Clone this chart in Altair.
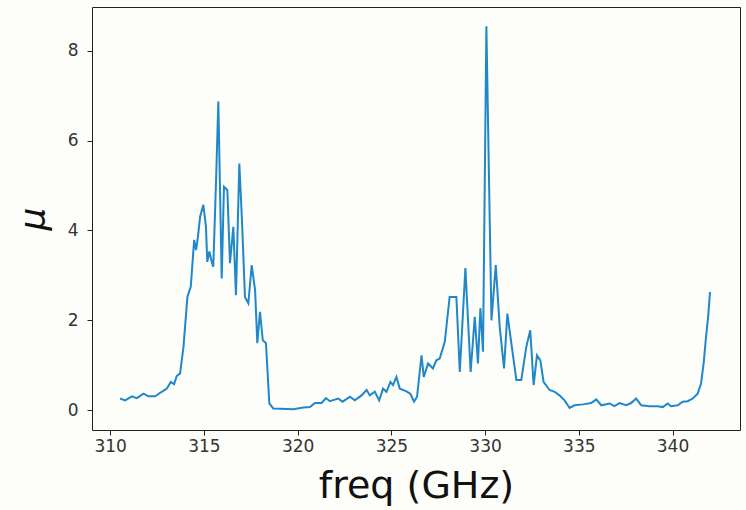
import altair as alt
import pandas as pd

freq = [310.53, 310.8, 311.16, 311.42, 311.78, 312.04, 312.4, 312.75, 313.02, 313.23,
        313.41, 313.55, 313.73, 313.91, 314.12, 314.3, 314.48, 314.58, 314.67, 314.8,
        314.97, 315.11, 315.18, 315.29, 315.42, 315.5, 315.65, 315.77, 315.95, 316.07,
        316.25, 316.39, 316.57, 316.71, 316.89, 317.03, 317.19, 317.37, 317.55, 317.73,
        317.85, 317.99, 318.14, 318.31, 318.49, 318.7, 319.77, 320.3, 320.66, 320.92,
        321.28, 321.51, 321.72, 322.16, 322.4, 322.79, 323.05, 323.41, 323.68, 323.85,
        324.12, 324.35, 324.56, 324.74, 324.95, 325.09, 325.27, 325.45, 325.81, 326.02,
        326.21, 326.37, 326.61, 326.73, 326.96, 327.22, 327.4, 327.58, 327.85, 328.11,
        328.47, 328.65, 328.95, 329.23, 329.45, 329.62, 329.75, 329.89, 330.07, 330.34,
        330.57, 330.78, 331.01, 331.19, 331.4, 331.67, 331.93, 332.2, 332.41, 332.59,
        332.77, 332.95, 333.12, 333.44, 333.71, 333.97, 334.24, 334.51, 334.77, 335.22,
        335.66, 335.93, 336.2, 336.64, 336.9, 337.17, 337.53, 337.79, 338.06, 338.33,
        338.77, 339.21, 339.48, 339.74, 339.92, 340.28, 340.54, 340.81, 341.08, 341.34,
        341.52, 341.66, 341.78, 341.9, 342.0]
mu = [0.26, 0.22, 0.31, 0.27, 0.37, 0.31, 0.31, 0.41, 0.48, 0.63,
      0.58, 0.76, 0.82, 1.41, 2.52, 2.75, 3.79, 3.56, 3.82, 4.31,
      4.57, 4.08, 3.3, 3.53, 3.3, 3.19, 5.12, 6.87, 2.93, 4.97,
      4.9, 3.27, 4.08, 2.56, 5.49, 4.23, 2.52, 2.38, 3.23, 2.67,
      1.49, 2.19, 1.56, 1.49, 0.15, 0.04, 0.02, 0.06, 0.07, 0.16,
      0.16, 0.27, 0.2, 0.26, 0.19, 0.3, 0.22, 0.33, 0.45, 0.33,
      0.41, 0.22, 0.48, 0.41, 0.63, 0.56, 0.74, 0.48, 0.42, 0.36,
      0.19, 0.3, 1.22, 0.74, 1.04, 0.93, 1.11, 1.15, 1.52, 2.52,
      2.52, 0.85, 3.16, 0.85, 2.08, 1.04, 2.27, 1.3, 8.54, 2.0,
      3.23, 1.86, 0.93, 2.15, 1.49, 0.67, 0.67, 1.41, 1.78, 0.56,
      1.22, 1.11, 0.63, 0.45, 0.41, 0.33, 0.22, 0.05, 0.11, 0.13,
      0.16, 0.24, 0.11, 0.15, 0.09, 0.16, 0.11, 0.16, 0.26, 0.11,
      0.09, 0.09, 0.07, 0.15, 0.09, 0.11, 0.19, 0.2, 0.26, 0.37,
      0.59, 1.04, 1.6, 2.08, 2.63]

x_ticks = [310, 315, 320, 325, 330, 335, 340]
y_ticks = [0, 2, 4, 6, 8]

df = pd.DataFrame({"freq": freq, "mu": mu})

chart = alt.Chart(df).mark_line(color="#2087ca", strokeWidth=2).encode(
    x=alt.X("freq:Q",
            scale=alt.Scale(domain=[309.03, 343.6], nice=False, zero=False),
            axis=alt.Axis(values=x_ticks, title="freq (GHz)", titleFontSize=38,
                          titleFontWeight="normal", titlePadding=13,
                          labelFontSize=17, labelPadding=3, format="d")),
    y=alt.Y("mu:Q",
            scale=alt.Scale(domain=[-0.44, 8.97], nice=False, zero=False),
            axis=alt.Axis(values=y_ticks, title="μ", titleFontSize=36,
                          titleFontStyle="italic", titleFontWeight="normal",
                          titlePadding=15, labelFontSize=17, labelPadding=9,
                          format="d")),
).properties(
    width=648, height=423,
    autosize=alt.AutoSizeParams(type="none"),
    padding={"left": 92, "top": 7, "right": 6, "bottom": 80},
    background="#fdfdf9",
).configure_view(
    stroke="#222222", strokeWidth=1
).configure_axis(
    grid=False, domain=False, tickColor="#222222", tickSize=5,
    labelColor="#333333", titleColor="#111111",
    labelFont="DejaVu Sans", titleFont="DejaVu Sans",
)

chart.save("out.html", embed_options={"renderer": "svg", "actions": False})
